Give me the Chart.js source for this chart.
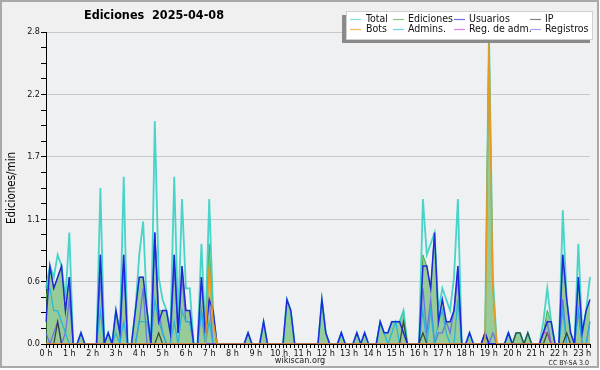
<!DOCTYPE html>
<html>
<head>
<meta charset="utf-8">
<script src="https://cdn.jsdelivr.net/npm/chart.js@4.4.1/dist/chart.umd.min.js"></script>
<style>
  html, body { margin: 0; padding: 0; background: #fff; }
</style>
</head>
<body>
<canvas id="chart" width="600" height="370"></canvas>
<script>
// ediciones por franja de 10 minutos (0:00 .. 23:20), en ediciones/min
var hourLabels = ['0 h', '1 h', '2 h', '3 h', '4 h', '5 h', '6 h', '7 h', '8 h', '9 h', '10 h', '11 h',
  '12 h', '13 h', '14 h', '15 h', '16 h', '17 h', '18 h', '19 h', '20 h', '21 h', '22 h', '23 h'];
var yTicks = [0, 0.56, 1.12, 1.68, 2.24, 2.8];

var total = [
  .5, .7, .6, .8, .7, .4, 1.0, 0, 0, .1, 0, 0,
  0, 0, 1.4, 0, .1, 0, .3, .1, 1.5, 0, 0, .3,
  .8, 1.1, .3, 0, 2.0, .6, .4, .3, .1, 1.5, .2, 1.3,
  .5, .5, 0, 0, .9, .1, 1.3, .3, 0, 0, 0, 0,
  0, 0, 0, 0, .1, 0, 0, 0, .2, 0, 0, 0,
  0, 0, .4, .3, 0, 0, 0, 0, 0, 0, 0, .4,
  .1, 0, 0, 0, .1, 0, 0, 0, .1, 0, .1, 0,
  0, 0, .2, .1, .1, .2, .2, .2, .3, 0, 0, 0,
  0, 1.3, .8, .9, 1.0, .3, .5, .4, .3, .6, 1.3, 0,
  0, .1, 0, 0, 0, .1, 2.8, .6, 0, 0, 0, .1,
  0, .1, .1, 0, .1, 0, 0, 0, .2, .5, .2, 0,
  0, 1.2, .4, .1, 0, .9, .1, .3, .6
];
var edits = [
  .4, .7, .5, .6, .7, .3, .6, 0, 0, .1, 0, 0,
  0, 0, .8, 0, .1, 0, .3, .1, .8, 0, 0, .3,
  .6, .6, .3, 0, 1.0, .3, .3, .3, .1, .8, .1, .7,
  .3, .3, 0, 0, .6, .1, .9, .3, 0, 0, 0, 0,
  0, 0, 0, 0, .1, 0, 0, 0, .2, 0, 0, 0,
  0, 0, .4, .3, 0, 0, 0, 0, 0, 0, 0, .4,
  .1, 0, 0, 0, .1, 0, 0, 0, .1, 0, .1, 0,
  0, 0, .2, .1, .1, .2, .2, .2, .3, 0, 0, 0,
  0, .8, .7, .5, 1.0, .2, .4, .2, .2, .3, .7, 0,
  0, .1, 0, 0, 0, .1, 2.8, .5, 0, 0, 0, .1,
  0, .1, .1, 0, .1, 0, 0, 0, .1, .3, .2, 0,
  0, .8, .4, .1, 0, .6, .1, .3, .4
];
var users = [
  .2, .7, .5, .6, .7, .3, .6, 0, 0, .1, 0, 0,
  0, 0, .8, 0, .1, 0, .3, .1, .8, 0, 0, .3,
  .6, .6, .3, 0, 1.0, .2, .3, .3, .1, .8, .1, .7,
  .3, .3, 0, 0, .6, .1, .4, .3, 0, 0, 0, 0,
  0, 0, 0, 0, .1, 0, 0, 0, .2, 0, 0, 0,
  0, 0, .4, .3, 0, 0, 0, 0, 0, 0, 0, .4,
  .1, 0, 0, 0, .1, 0, 0, 0, .1, 0, .1, 0,
  0, 0, .2, .1, .1, .2, .2, .2, .1, 0, 0, 0,
  0, .7, .7, .5, 1.0, .2, .4, .2, .2, .3, .7, 0,
  0, .1, 0, 0, 0, .1, 0, 0, 0, 0, 0, .1,
  0, 0, 0, 0, 0, 0, 0, 0, .1, .2, .2, 0,
  0, .8, .4, .1, 0, .6, .1, .3, .4
];
var ip = [
  0, 0, 0, .2, 0, 0, 0, 0, 0, 0, 0, 0,
  0, 0, 0, 0, 0, 0, 0, 0, 0, 0, 0, 0,
  0, 0, 0, 0, 0, .1, 0, 0, 0, 0, 0, 0,
  0, 0, 0, 0, 0, 0, 0, 0, 0, 0, 0, 0,
  0, 0, 0, 0, 0, 0, 0, 0, 0, 0, 0, 0,
  0, 0, 0, 0, 0, 0, 0, 0, 0, 0, 0, 0,
  0, 0, 0, 0, 0, 0, 0, 0, 0, 0, 0, 0,
  0, 0, 0, 0, 0, 0, 0, 0, .2, 0, 0, 0,
  0, .1, 0, 0, 0, 0, 0, 0, 0, 0, 0, 0,
  0, 0, 0, 0, 0, .1, 0, 0, 0, 0, 0, 0,
  0, .1, .1, 0, .1, 0, 0, 0, 0, .1, 0, 0,
  0, 0, .1, 0, 0, 0, 0, 0, 0
];
var bots = [
  0, 0, 0, 0, 0, 0, 0, 0, 0, 0, 0, 0,
  0, 0, 0, 0, 0, 0, 0, 0, 0, 0, 0, 0,
  0, 0, 0, 0, 0, 0, 0, 0, 0, 0, 0, 0,
  0, 0, 0, 0, 0, 0, .7, .2, 0, 0, 0, 0,
  0, 0, 0, 0, 0, 0, 0, 0, 0, 0, 0, 0,
  0, 0, 0, 0, 0, 0, 0, 0, 0, 0, 0, 0,
  0, 0, 0, 0, 0, 0, 0, 0, 0, 0, 0, 0,
  0, 0, 0, 0, 0, 0, 0, 0, 0, 0, 0, 0,
  0, 0, 0, 0, 0, 0, 0, 0, 0, 0, 0, 0,
  0, 0, 0, 0, 0, 0, 2.7, .5, 0, 0, 0, 0,
  0, 0, 0, 0, 0, 0, 0, 0, 0, 0, 0, 0,
  0, 0, 0, 0, 0, 0, 0, 0, 0
];
var admins = [
  .5, .5, .3, .3, .2, .1, 0, 0, 0, 0, 0, 0,
  0, 0, .3, 0, 0, 0, .1, 0, .2, 0, 0, 0,
  .2, .2, .2, 0, .4, .2, .1, 0, 0, .2, 0, .3,
  .2, .2, 0, 0, .3, 0, .2, 0, 0, 0, 0, 0,
  0, 0, 0, 0, 0, 0, 0, 0, 0, 0, 0, 0,
  0, 0, 0, 0, 0, 0, 0, 0, 0, 0, 0, 0,
  0, 0, 0, 0, .1, 0, 0, 0, 0, 0, 0, 0,
  0, 0, .2, .1, 0, .1, .2, 0, 0, 0, 0, 0,
  0, .3, 0, .3, 0, .2, .3, .1, 0, 0, .4, 0,
  0, 0, 0, 0, 0, 0, 0, 0, 0, 0, 0, .1,
  0, 0, 0, 0, 0, 0, 0, 0, 0, 0, 0, 0,
  0, .3, 0, 0, 0, .3, 0, 0, .2
];
var adminLogs = [
  0, 0, 0, 0, 0, 0, 0, 0, 0, 0, 0, 0,
  0, 0, 0, 0, 0, 0, 0, 0, 0, 0, 0, 0,
  0, 0, 0, 0, 0, 0, 0, 0, 0, 0, 0, 0,
  0, 0, 0, 0, 0, 0, 0, 0, 0, 0, 0, 0,
  0, 0, 0, 0, 0, 0, 0, 0, 0, 0, 0, 0,
  0, 0, 0, 0, 0, 0, 0, 0, 0, 0, 0, 0,
  0, 0, 0, 0, 0, 0, 0, 0, 0, 0, 0, 0,
  0, 0, 0, 0, 0, 0, 0, 0, 0, 0, 0, 0,
  0, 0, 0, 0, 0, 0, 0, 0, 0, 0, 0, 0,
  0, 0, 0, 0, 0, 0, 0, 0, 0, 0, 0, 0,
  0, 0, 0, 0, 0, 0, 0, 0, .1, .1, 0, 0,
  0, 0, 0, 0, 0, 0, 0, 0, 0
];
var logs = [
  .1, 0, .1, .2, 0, .1, .4, 0, 0, 0, 0, 0,
  0, 0, .6, 0, 0, 0, 0, 0, .7, 0, 0, 0,
  .2, .5, 0, 0, 1.0, .3, .1, 0, 0, .7, .1, .6,
  .2, .2, 0, 0, .3, 0, .4, 0, 0, 0, 0, 0,
  0, 0, 0, 0, 0, 0, 0, 0, 0, 0, 0, 0,
  0, 0, 0, 0, 0, 0, 0, 0, 0, 0, 0, 0,
  0, 0, 0, 0, 0, 0, 0, 0, 0, 0, 0, 0,
  0, 0, 0, 0, 0, 0, 0, 0, 0, 0, 0, 0,
  0, .5, .1, .4, 0, .1, .1, .2, .1, .3, .6, 0,
  0, 0, 0, 0, 0, 0, 0, .1, 0, 0, 0, 0,
  0, 0, 0, 0, 0, 0, 0, 0, .1, .2, 0, 0,
  0, .4, 0, 0, 0, .3, 0, 0, .2
];

// una etiqueta por franja de 10 min
var slots = [];
for (var i = 0; i < total.length; i++) {
  var h = Math.floor(i / 6), m = (i % 6) * 10;
  slots.push(h + ':' + (m < 10 ? '0' : '') + m);
}

var FONT = "'DejaVu Sans Condensed', 'DejaVu Sans', sans-serif";

var decor = {
  id: 'decor',
  beforeDraw: function (chart) {
    var c = chart.ctx, a = chart.chartArea;
    c.save();
    c.fillStyle = '#fff';
    c.fillRect(0, 0, 600, 370);
    c.fillStyle = '#f0f0f0';
    c.fillRect(0, 0, 599, 368);
    c.strokeStyle = '#a9a9a9';
    c.lineWidth = 2;
    c.strokeRect(1, 1, 597, 366);
    c.fillStyle = '#eef0f2';
    c.fillRect(a.left, a.top, a.right - a.left, a.bottom - a.top);
    c.restore();
  },
  afterDraw: function (chart) {
    var c = chart.ctx;
    c.save();
    c.fillStyle = '#000';
    c.textBaseline = 'middle';
    c.textAlign = 'center';
    c.font = 'bold 12.5px ' + FONT;
    c.fillText('Ediciones  2025-04-08', 154, 16);

    // leyenda
    c.fillStyle = '#8a8a8a';
    c.fillRect(342, 15, 248, 28);
    c.fillStyle = '#fff';
    c.fillRect(346, 11, 247, 29);
    c.strokeStyle = '#d0d0d0';
    c.lineWidth = 1;
    c.strokeRect(346.5, 11.5, 246, 28);
    var lineX = [350, 393, 454, 530], textX = [366, 408, 469, 545], rowY = [19, 29];
    c.font = '10.5px ' + FONT;
    c.textAlign = 'left';
    chart.data.datasets.forEach(function (ds, k) {
      var col = k % 4, y = rowY[Math.floor(k / 4)];
      c.globalAlpha = 0.7;
      c.strokeStyle = ds.borderColor;
      c.lineWidth = 1.2;
      c.beginPath();
      c.moveTo(lineX[col], y + 0.5);
      c.lineTo(lineX[col] + 11, y + 0.5);
      c.stroke();
      c.globalAlpha = 1;
      c.fillStyle = '#111';
      c.fillText(ds.label, textX[col], y);
    });

    c.fillStyle = '#222';
    c.textAlign = 'center';
    c.font = '9px ' + FONT;
    c.fillText('wikiscan.org', 300, 361);
    c.textAlign = 'right';
    c.font = '7px ' + FONT;
    c.fillText('CC BY-SA 3.0', 589, 363);
    c.restore();
  }
};

function line(label, data, color, width, order) {
  return {
    label: label,
    data: data,
    borderColor: color,
    borderWidth: width,
    fill: false,
    pointRadius: 0,
    tension: 0,
    order: order
  };
}

var datasets = [
  line('Total', total, 'rgba(52,208,196,0.9)', 1.8, 7),
  {
    label: 'Ediciones',
    data: edits,
    borderColor: 'rgba(60,170,60,0.9)',
    backgroundColor: 'rgba(80,175,80,0.55)',
    borderWidth: 1,
    fill: 'origin',
    pointRadius: 0,
    tension: 0,
    order: 8
  },
  line('Usuarios', users, 'rgba(25,25,225,0.9)', 1.5, 2),
  line('IP', ip, 'rgba(40,50,40,0.85)', 1.3, 4),
  line('Bots', bots, 'rgba(245,150,20,0.95)', 1.5, 1),
  line('Admins.', admins, 'rgba(30,180,225,0.9)', 1.3, 5),
  line('Reg. de adm.', adminLogs, 'rgba(200,60,220,0.9)', 1.3, 3),
  line('Registros', logs, 'rgba(100,100,240,0.85)', 1.3, 6)
];

new Chart(document.getElementById('chart'), {
  type: 'line',
  data: { labels: slots, datasets: datasets },
  plugins: [decor],
  options: {
    responsive: false,
    animation: false,
    layout: { padding: { top: 32, right: 10, bottom: 10, left: 0 } },
    plugins: {
      legend: { display: false },
      tooltip: { enabled: false }
    },
    scales: {
      x: {
        grid: { drawOnChartArea: false, tickLength: 4, tickColor: '#000' },
        border: { color: '#000' },
        ticks: {
          autoSkip: false,
          maxRotation: 0,
          minRotation: 0,
          padding: 0,
          color: '#111',
          font: { family: FONT, size: 9 },
          callback: function (v, idx) { return idx % 6 === 0 ? hourLabels[idx / 6] : ''; }
        },
        afterFit: function (s) { s.height = 16; }
      },
      y: {
        min: 0,
        max: yTicks[yTicks.length - 1],
        grid: {
          tickLength: 5,
          tickColor: '#000',
          color: function (ctx) { return ctx.index % 4 === 0 ? '#c8c8c8' : 'rgba(0,0,0,0)'; }
        },
        border: { color: '#000' },
        ticks: {
          stepSize: yTicks[1] / 4,
          padding: 1,
          color: '#111',
          font: { family: FONT, size: 9 },
          callback: function (v, idx) { return idx % 4 === 0 ? yTicks[idx / 4].toFixed(1) : ''; }
        },
        title: {
          display: true,
          text: 'Ediciones/min',
          color: '#000',
          padding: { top: 5, bottom: 0 },
          font: { family: FONT, size: 11.5 }
        },
        afterFit: function (s) { s.width = 46; }
      }
    }
  }
});
</script>
</body>
</html>
